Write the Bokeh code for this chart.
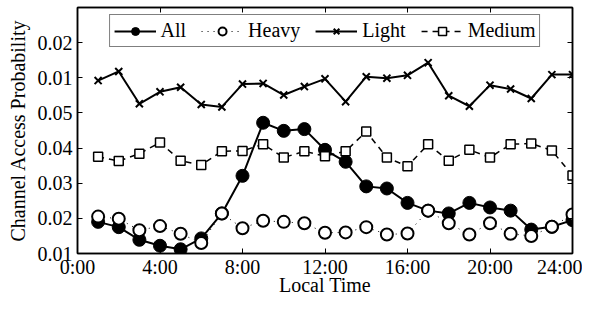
from bokeh.plotting import figure
from bokeh.models import (LinearAxis, FixedTicker, Range1d, CustomJSTickFormatter,
                          CustomLabelingPolicy)
from bokeh.embed import file_html
from bokeh.resources import INLINE

hours = list(range(1, 25))
all_vals = [0.0190, 0.0175, 0.0139, 0.0122, 0.0112, 0.0143, 0.0214, 0.0321, 0.0472, 0.0449, 0.0454, 0.0395,
            0.0361, 0.0291, 0.0285, 0.0244, 0.0222, 0.0214, 0.0244, 0.0231, 0.0222, 0.0168, 0.0176, 0.0195]
heavy_vals = [0.0205, 0.0199, 0.0166, 0.0178, 0.0156, 0.0130, 0.0214, 0.0172, 0.0193, 0.0190, 0.0186, 0.0159,
              0.0160, 0.0175, 0.0154, 0.0157, 0.0222, 0.0186, 0.0154, 0.0186, 0.0156, 0.0150, 0.0176, 0.0211]
light_vals = [0.0592, 0.0618, 0.0526, 0.0560, 0.0573, 0.0524, 0.0517, 0.0582, 0.0584, 0.0551, 0.0575, 0.0597,
              0.0532, 0.0603, 0.0599, 0.0607, 0.0643, 0.0549, 0.0519, 0.0579, 0.0568, 0.0541, 0.0609, 0.0609]
medium_vals = [0.0375, 0.0363, 0.0384, 0.0416, 0.0364, 0.0352, 0.0391, 0.0392, 0.0411, 0.0373, 0.0391, 0.0377,
               0.0391, 0.0447, 0.0373, 0.0348, 0.0411, 0.0364, 0.0395, 0.0373, 0.0411, 0.0413, 0.0393, 0.0322]

x_ticks = [0, 4, 8, 12, 16, 20, 24]
x_tick_labels = ["0:00", "4:00", "8:00", "12:00", "16:00", "20:00", "24:00"]
y_ticks = [0.01, 0.02, 0.03, 0.04, 0.05, 0.06, 0.07]
y_tick_labels = ["0.01", "0.02", "0.03", "0.04", "0.05", "0.01", "0.02"]

FONT = "Liberation Serif"

p = figure(width=582, height=298, output_backend="svg", toolbar_location=None,
           x_range=Range1d(0, 24), y_range=Range1d(0.01, 0.08),
           x_axis_label="Local Time", y_axis_label="Channel Access Probability",
           min_border_left=77, min_border_right=10, min_border_top=7, min_border_bottom=0)
p.grid.visible = False
p.outline_line_color = "black"
p.outline_line_width = 1.5
p.background_fill_color = "white"
p.border_fill_color = "white"

xfmt = CustomJSTickFormatter(args=dict(labels=x_tick_labels), code="return labels[index];")
yfmt = CustomJSTickFormatter(args=dict(labels=y_tick_labels), code="return labels[index];")

for ax in p.xaxis:
    ax.ticker = FixedTicker(ticks=x_ticks)
    ax.formatter = xfmt
for ax in p.yaxis:
    ax.ticker = FixedTicker(ticks=y_ticks)
    ax.formatter = yfmt

for ax in list(p.xaxis) + list(p.yaxis):
    ax.major_tick_in = 5
    ax.major_tick_out = 0
    ax.minor_tick_in = 0
    ax.minor_tick_out = 0
    ax.axis_line_width = 1.5
    ax.major_tick_line_width = 1
    ax.major_label_text_font = FONT
    ax.major_label_text_font_size = "20px"
    ax.major_label_text_color = "black"
    ax.axis_label_text_font = FONT
    ax.axis_label_text_font_size = "20px"
    ax.axis_label_text_font_style = "normal"
    ax.axis_label_text_color = "black"

p.xaxis.major_label_standoff = 2
p.xaxis.axis_label_standoff = -7
p.yaxis.major_label_standoff = 5
p.yaxis.axis_label_standoff = 6

hide_all = CustomLabelingPolicy(code="""
for (const i of indices) { indices.unset(i) }
return indices
""")

top_ax = LinearAxis(ticker=FixedTicker(ticks=x_ticks), major_label_text_font_size="0px",
                    major_label_policy=hide_all,
                    major_label_standoff=0, major_tick_in=5, major_tick_out=0,
                    minor_tick_in=0, minor_tick_out=0, axis_line_width=1.5)
right_ax = LinearAxis(ticker=FixedTicker(ticks=y_ticks), major_label_text_font_size="0px",
                      major_label_policy=hide_all,
                      major_label_standoff=0, major_tick_in=5, major_tick_out=0,
                      minor_tick_in=0, minor_tick_out=0, axis_line_width=1.5)
p.add_layout(top_ax, "above")
p.add_layout(right_ax, "right")

# All
p.line(hours, all_vals, line_color="black", line_width=2, legend_label="All")
p.scatter(hours, all_vals, marker="circle", size=13, fill_color="black", line_color="black",
          legend_label="All")
# Heavy
p.line(hours, heavy_vals, line_color="black", line_width=1, line_dash="1 5", legend_label="Heavy")
p.scatter(hours, heavy_vals, marker="circle", size=12, fill_color="white", line_color="black",
          line_width=2, legend_label="Heavy")
# Light
p.line(hours, light_vals, line_color="black", line_width=2, legend_label="Light")
p.scatter(hours, light_vals, marker="x", size=10, line_color="black", line_width=2,
          legend_label="Light")
# Medium
p.line(hours, medium_vals, line_color="black", line_width=1.5, line_dash="6 5", legend_label="Medium")
p.scatter(hours, medium_vals, marker="square", size=9, fill_color="white", line_color="black",
          line_width=1.5, legend_label="Medium")

leg = p.legend[0]
leg.orientation = "horizontal"
leg.location = "top_center"
leg.margin = 7
leg.padding = 4
leg.spacing = 15
leg.glyph_width = 42
leg.glyph_height = 20
leg.label_standoff = 5
leg.label_text_font = FONT
leg.label_text_font_size = "20px"
leg.label_text_color = "black"
leg.border_line_color = "black"
leg.border_line_width = 1
leg.background_fill_alpha = 1
leg.background_fill_color = "white"

open("out.html", "w").write(file_html(p, INLINE))
